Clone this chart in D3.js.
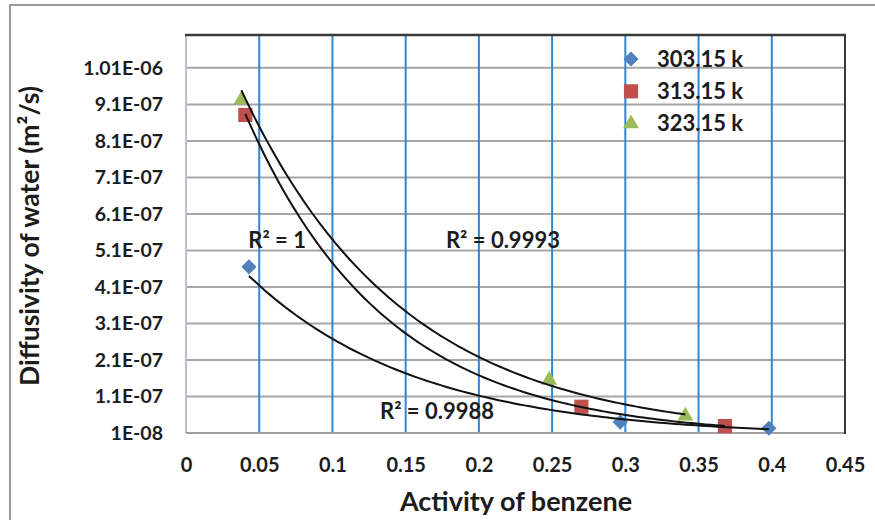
<!DOCTYPE html>
<html><head><meta charset="utf-8">
<script src="https://cdn.jsdelivr.net/npm/d3@7"></script>
<style>
body{margin:0;background:#fff;}
text{font-family:Lato,"Open Sans",sans-serif;font-weight:bold;fill:#1c1c1c;}
</style>
</head><body><svg id="c" width="875" height="520"></svg>
<script>
// ---- data ----
const seriesNames = ["303.15 k", "313.15 k", "323.15 k"];
const x303 = [0.043, 0.2965, 0.398];
const y303 = [4.65e-7, 4.0e-8, 2.3e-8];
const x313 = [0.0405, 0.270, 0.368];
const y313 = [8.81e-7, 8.2e-8, 2.9e-8];
const x323 = [0.0378, 0.248, 0.341];
const y323 = [9.22e-7, 1.55e-7, 5.7e-8];
const xTicks = [0, 0.05, 0.1, 0.15, 0.2, 0.25, 0.3, 0.35, 0.4, 0.45];
const xTickLabels = ["0", "0.05", "0.1", "0.15", "0.2", "0.25", "0.3", "0.35", "0.4", "0.45"];
const yTicks = [1e-8, 1.1e-7, 2.1e-7, 3.1e-7, 4.1e-7, 5.1e-7, 6.1e-7, 7.1e-7, 8.1e-7, 9.1e-7, 1.01e-6];
const yTickLabels = ["1E-08", "1.1E-07", "2.1E-07", "3.1E-07", "4.1E-07", "5.1E-07", "6.1E-07", "7.1E-07", "8.1E-07", "9.1E-07", "1.01E-06"];
const r2Texts = ["R² = 1", "R² = 0.9993", "R² = 0.9988"];
const r2X = [0.0425, 0.1775, 0.1325];
const r2Y = [5.37e-7, 5.37e-7, 7.0e-8];
const xTitle = "Activity of benzene";
const yTitle = "Diffusivity of water (m²/s)";

const colors = ["#4f81bd", "#c0504d", "#9bbb59"];
const series = [
  {name: seriesNames[0], xs: x303, ys: y303, color: colors[0], shape: "diamond"},
  {name: seriesNames[1], xs: x313, ys: y313, color: colors[1], shape: "square"},
  {name: seriesNames[2], xs: x323, ys: y323, color: colors[2], shape: "triangle"}
];

const svg = d3.select("#c");
const L = 186, R = 845, T = 35, B = 433;
const x = d3.scaleLinear().domain([0, 0.45]).range([L, R]);
const y = d3.scaleLinear().domain([1e-8, 1.1e-6]).range([B, T]);

// outer chart border
svg.append("rect").attr("x", 10).attr("y", 5).attr("width", 880).attr("height", 530)
  .attr("fill", "none").attr("stroke", "#9a9a9a").attr("stroke-width", 2);

// gridlines
svg.append("g").selectAll("line").data(yTicks.slice(1)).join("line")
  .attr("x1", L).attr("x2", R).attr("y1", d => y(d)).attr("y2", d => y(d))
  .attr("stroke", "#a6a6a6").attr("stroke-width", 2);
svg.append("g").selectAll("line").data(xTicks.slice(1, -1)).join("line")
  .attr("y1", T).attr("y2", B).attr("x1", d => x(d)).attr("x2", d => x(d))
  .attr("stroke", "#2f86d2").attr("stroke-width", 2);

// plot borders
svg.append("line").attr("x1", L).attr("x2", L).attr("y1", T).attr("y2", B).attr("stroke", "#b4c0d4").attr("stroke-width", 2);
svg.append("line").attr("x1", L).attr("x2", R).attr("y1", B).attr("y2", B).attr("stroke", "#a0a0a0").attr("stroke-width", 2);
svg.append("line").attr("x1", L - 1).attr("x2", R + 1).attr("y1", T).attr("y2", T).attr("stroke", "#3a3a3a").attr("stroke-width", 2.5);
svg.append("line").attr("x1", R).attr("x2", R).attr("y1", T).attr("y2", B + 1).attr("stroke", "#3a3a3a").attr("stroke-width", 2);

// axes (labels only)
const xAxis = d3.axisBottom(x).tickValues(xTicks).tickFormat((d, i) => xTickLabels[i]).tickSize(0).tickPadding(0);
const gx = svg.append("g").attr("transform", `translate(0,${B + 32})`).call(xAxis);
gx.select(".domain").remove();
gx.selectAll("text").attr("font-size", 20).attr("dy", "0.35em").attr("fill", "#1c1c1c")
  .style("font-family", "Lato, 'Open Sans', sans-serif").style("font-weight", "bold");

const yAxis = d3.axisLeft(y).tickValues(yTicks).tickFormat((d, i) => yTickLabels[i]).tickSize(0).tickPadding(0);
const gy = svg.append("g").attr("transform", `translate(${L - 23},0)`).call(yAxis);
gy.select(".domain").remove();
gy.selectAll("text").attr("font-size", 19.5).attr("fill", "#1c1c1c")
  .style("font-family", "Lato, 'Open Sans', sans-serif").style("font-weight", "bold");

// axis titles
svg.append("text").attr("x", 516).attr("y", 502).attr("dy", "0.35em").attr("text-anchor", "middle")
  .attr("font-size", 27).text(xTitle);
svg.append("text").attr("transform", "translate(30,236) rotate(-90)").attr("dy", "0.35em")
  .attr("text-anchor", "middle").attr("font-size", 26.5).text(yTitle);

// symbol helper
function sym(shape) {
  if (shape === "diamond") return d3.symbol().type(d3.symbolSquare).size(115)();
  if (shape === "square") return d3.symbol().type(d3.symbolSquare).size(200)();
  return d3.symbol().type(d3.symbolTriangle).size(110)();
}
function rot(shape) { return shape === "diamond" ? " rotate(45)" : ""; }

// markers
series.forEach(s => {
  svg.append("g").selectAll("path").data(s.xs.map((v, i) => [v, s.ys[i]])).join("path")
    .attr("d", sym(s.shape))
    .attr("transform", d => `translate(${x(d[0])},${y(d[1])})${rot(s.shape)}`)
    .attr("fill", s.color);
});

// exponential trendlines (least squares on ln y)
function expFit(xs, ys) {
  const n = xs.length;
  const ly = ys.map(Math.log);
  const mx = d3.mean(xs), my = d3.mean(ly);
  let sxx = 0, sxy = 0;
  for (let i = 0; i < n; i++) { sxx += (xs[i] - mx) ** 2; sxy += (xs[i] - mx) * (ly[i] - my); }
  const b = sxy / sxx, a = my - b * mx;
  return t => Math.exp(a + b * t);
}
const line = d3.line().x(d => x(d[0])).y(d => y(d[1])).curve(d3.curveLinear);
series.forEach(s => {
  const f = expFit(s.xs, s.ys);
  const x0 = d3.min(s.xs), x1 = d3.max(s.xs);
  const pts = d3.range(0, 101).map(k => { const t = x0 + (x1 - x0) * k / 100; return [t, f(t)]; });
  svg.append("path").datum(pts).attr("d", line).attr("fill", "none")
    .attr("stroke", "#111").attr("stroke-width", 2);
});

// R² labels
r2Texts.forEach((t, i) => {
  svg.append("text").attr("x", x(r2X[i])).attr("y", y(r2Y[i])).attr("dy", "0.35em")
    .attr("font-size", 22).text(t);
});

// legend
const lg = svg.append("g");
series.forEach((s, i) => {
  const ly = 59 + i * 32.3;
  lg.append("path").attr("d", sym(s.shape))
    .attr("transform", `translate(631,${ly})${rot(s.shape)}`).attr("fill", s.color);
  lg.append("text").attr("x", 657).attr("y", ly).attr("dy", "0.35em").attr("font-size", 22).text(s.name);
});
</script>
</body></html>
